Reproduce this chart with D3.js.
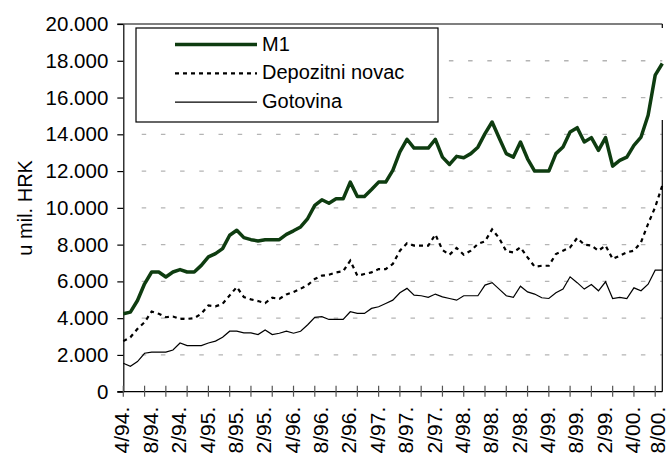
<!DOCTYPE html>
<meta charset="utf-8">
<style>
body{ margin:0; background:#fff; }
text{ font-family:"Liberation Sans", Arial, sans-serif; fill:#000; }
</style>
<svg id="chart" width="670" height="457"></svg>
<script src="https://d3js.org/d3.v7.min.js"></script>
<script>

// monthly data, 4/94 - 8/00, mil. HRK
var months = d3.timeMonth.range(new Date(1994, 3, 1), new Date(2000, 8, 1)).map(function(d){
  return (d.getMonth()+1) + "/" + d3.timeFormat("%y")(d);
});

var m1 = [4240,4330,4960,5870,6510,6510,6240,6510,6640,6510,
          6510,6870,7330,7510,7780,8510,8780,8380,8270,8200,
          8270,8270,8270,8560,8750,8960,9420,10130,10440,10250,
          10490,10490,11400,10620,10620,11000,11400,11400,12040,13040,
          13730,13250,13250,13250,13730,12760,12360,12800,12730,12950,
          13300,14040,14670,13800,12950,12760,13580,12670,12000,12000,
          12000,12950,13310,14130,14360,13580,13820,13130,13820,12270,
          12580,12760,13400,13850,15040,17220,17850];

var depozitni = [2750,2960,3420,3780,4360,4240,4050,4090,3960,3960,
                 4000,4240,4690,4640,4780,5240,5690,5150,5020,4930,
                 4820,5110,5050,5290,5420,5600,5800,6130,6310,6360,
                 6490,6550,7130,6310,6400,6490,6670,6670,6950,7670,
                 8070,7950,7950,7950,8550,7710,7450,7820,7450,7670,
                 8040,8180,8830,8350,7640,7580,7850,7310,6800,6850,
                 6850,7490,7670,7850,8360,8000,7950,7670,7950,7220,
                 7400,7580,7670,8130,9130,10040,11220];

var gotovina = [1550,1380,1640,2090,2150,2150,2150,2270,2650,2510,
                2510,2510,2650,2750,2960,3290,3290,3200,3200,3110,
                3360,3110,3180,3290,3180,3290,3640,4040,4080,3930,
                3930,3930,4350,4260,4260,4530,4620,4800,4980,5380,
                5620,5250,5220,5130,5310,5160,5070,4980,5220,5220,
                5220,5800,5930,5580,5220,5130,5740,5430,5310,5110,
                5070,5380,5580,6250,5930,5580,5830,5490,5980,5070,
                5130,5070,5650,5490,5850,6610,6610];

// labels as printed (the leading "1" of the December labels is cut off in the original)
var tickLabels = ["4/94.","8/94.","2/94.","4/95.","8/95.","2/95.","4/96.","8/96.","2/96.","4/97.",
                  "8/97.","2/97.","4/98.","8/98.","2/98.","4/99.","8/99.","2/99.","4/00.","8/00."];

var yTicks = [0,2000,4000,6000,8000,10000,12000,14000,16000,18000,20000];
var labelMonths = months.filter(function(d,i){ return i % 4 === 0; });
var tickMonths = months.filter(function(d,i){ return i % 3 === 0; });
var legendNames = ["M1", "Depozitni novac", "Gotovina"];

var svg = d3.select("#chart"),
    margin = {top: 24, right: 7.7, bottom: 65.3, left: 123.3},
    width = +svg.attr("width") - margin.left - margin.right,
    height = +svg.attr("height") - margin.top - margin.bottom;

var g = svg.append("g").attr("transform", "translate(" + margin.left + "," + margin.top + ")");

var x = d3.scalePoint().domain(months).range([0, width]);
var y = d3.scaleLinear().domain([0, 20000]).range([height, 0]);

var hr = d3.formatLocale({decimal: ",", thousands: ".", grouping: [3], currency: ["", ""]});
var fmt = hr.format(",");

// grid
g.selectAll(".grid")
  .data(yTicks.filter(function(d){ return d > 0 && d < 20000; }))
  .enter().append("line")
    .attr("class", "grid")
    .attr("x1", 18.4)
    .attr("x2", width)
    .attr("y1", function(d){ return y(d); })
    .attr("y2", function(d){ return y(d); })
    .attr("stroke", "#b4b4b4")
    .attr("stroke-width", 1.3)
    .attr("stroke-dasharray", "4.5,14.7");

// frame: top and right (right has a gap in the original)
g.append("line").attr("x1", -6).attr("x2", width).attr("y1", 0).attr("y2", 0)
  .attr("stroke", "#000").attr("stroke-width", 1.2);
g.append("line").attr("x1", width).attr("x2", width).attr("y1", 0).attr("y2", 4)
  .attr("stroke", "#000").attr("stroke-width", 1.2);
g.append("line").attr("x1", width).attr("x2", width).attr("y1", 96).attr("y2", height)
  .attr("stroke", "#000").attr("stroke-width", 1.2);

// y axis
var yAxis = g.append("g")
  .call(d3.axisLeft(y).tickValues(yTicks).tickSize(6).tickSizeOuter(0).tickPadding(9).tickFormat(fmt));
yAxis.select(".domain").attr("stroke", "#000").attr("stroke-width", 1.2);
yAxis.selectAll(".tick line").attr("stroke", "#000").attr("stroke-width", 1.2);
yAxis.selectAll("text").style("font-size", "20.5px").attr("fill", "#000");

// x axis
g.append("line").attr("x1", -6).attr("x2", width).attr("y1", height).attr("y2", height)
  .attr("stroke", "#000").attr("stroke-width", 1.2);
g.selectAll(".xtick")
  .data(tickMonths)
  .enter().append("line")
    .attr("class", "xtick")
    .attr("x1", function(d){ return x(d); })
    .attr("x2", function(d){ return x(d); })
    .attr("y1", height - 6)
    .attr("y2", height + 5)
    .attr("stroke", "#555")
    .attr("stroke-width", 1.2);

var xAxis = g.append("g")
  .attr("transform", "translate(0," + height + ")")
  .call(d3.axisBottom(x).tickValues(labelMonths).tickSize(0)
    .tickFormat(function(d,i){ return tickLabels[i]; }));
xAxis.select(".domain").remove();
xAxis.selectAll("text")
  .attr("transform", "rotate(-90)")
  .attr("x", -15)
  .attr("y", function(d,i){ return i === labelMonths.length - 1 ? -3 : 0; }) // keep last label inside
  .attr("dy", "0.27em")
  .style("text-anchor", "end")
  .style("font-size", "21px")
  .attr("fill", "#000");

// y title
svg.append("text")
  .attr("transform", "translate(32," + (margin.top + height/2) + ") rotate(-90)")
  .style("text-anchor", "middle")
  .style("font-size", "20px")
  .text("u mil. HRK");

// lines
var line = d3.line()
  .x(function(d,i){ return x(months[i]); })
  .y(function(d){ return y(d); });

g.append("path").datum(gotovina)
  .attr("d", line)
  .attr("fill", "none")
  .attr("stroke", "#000")
  .attr("stroke-width", 1.2);

g.append("path").datum(depozitni)
  .attr("d", line)
  .attr("fill", "none")
  .attr("stroke", "#000")
  .attr("stroke-width", 2.2)
  .attr("stroke-dasharray", "4,4");

g.append("path").datum(m1)
  .attr("d", line)
  .attr("fill", "none")
  .attr("stroke", "#0e3c10")
  .attr("stroke-width", 3.5)
  .attr("stroke-linejoin", "round");

// legend
var legend = svg.append("g").attr("transform", "translate(136,28)");
legend.append("rect")
  .attr("width", 302)
  .attr("height", 94)
  .attr("fill", "#fff")
  .attr("stroke", "#000")
  .attr("stroke-width", 1.2);

var styles = [
  {stroke: "#0e3c10", w: 3.5, dash: null},
  {stroke: "#000", w: 2.2, dash: "4,4"},
  {stroke: "#000", w: 1.2, dash: null}
];

var items = legend.selectAll(".item")
  .data(legendNames)
  .enter().append("g")
    .attr("class", "item")
    .attr("transform", function(d,i){ return "translate(0," + (22.5 + i*28.8) + ")"; });

items.append("line")
  .attr("x1", 39)
  .attr("x2", 121)
  .attr("y1", -6)
  .attr("y2", -6)
  .attr("stroke", function(d,i){ return styles[i].stroke; })
  .attr("stroke-width", function(d,i){ return styles[i].w; })
  .attr("stroke-dasharray", function(d,i){ return styles[i].dash; });

items.append("text")
  .attr("x", 126)
  .attr("y", 0)
  .style("font-size", "20px")
  .text(function(d){ return d; });

</script>
